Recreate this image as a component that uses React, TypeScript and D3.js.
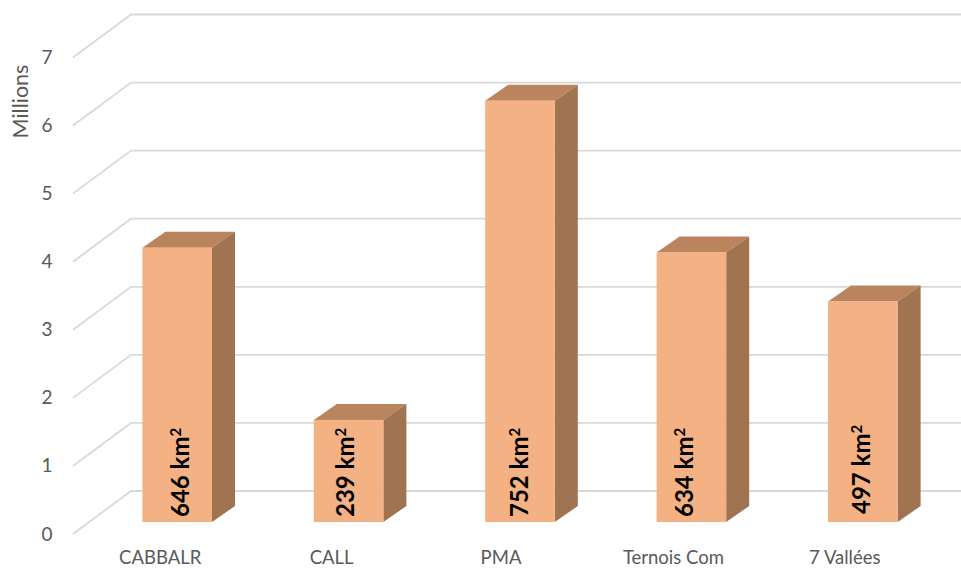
import React from "react";
import * as d3 from "d3";

const categories = ["CABBALR", "CALL", "PMA", "Ternois Com", "7 Vallées"];
const millions = [4.03, 1.5, 6.19, 3.96, 3.24];
const areas = ["646 km", "239 km", "752 km", "634 km", "497 km"];
const ticks = [0, 1, 2, 3, 4, 5, 6, 7];
const categoryLabelShift = [-17, -17, -19, -18, -18];
const areaLabelShift = [3, -4, -1, -7, -1.5];
const areaLabelLift = [0, 0, 0, 0, 3];

const WIDTH = 961;
const HEIGHT = 568;
const FONT = "Lato, 'Open Sans', sans-serif";

// Oblique offset of the back wall relative to the front plane of the floor.
const wallDx = 58;
const wallDy = -43;
// Oblique depth of each column.
const barDx = 23;
const barDy = -16;

const x = d3
  .scaleBand<string>()
  .domain(categories)
  .range([91.5, 948.5])
  .paddingInner(0.594)
  .paddingOuter(0.297);

// Height in the front plane of the axis; columns sit 12px above it.
const y = d3.scaleLinear().domain([0, 7]).range([534, 57.5]);
const barBase = y(0) - 12;
const barHeight = (v: number) => y(0) - y(v);

const poly = (pts: [number, number][]) => d3.line()(pts) + "Z";

export default function App() {
  return (
    <svg
      width={WIDTH}
      height={HEIGHT}
      viewBox={`0 0 ${WIDTH} ${HEIGHT}`}
      style={{ position: "fixed", left: 0, top: 0, background: "#fff" }}
    >
      {ticks.map((t) => (
        <g key={t}>
          <path
            d={
              d3.line()([
                [73, y(t)],
                [73 + wallDx, y(t) + wallDy],
                [WIDTH, y(t) + wallDy],
              ]) as string
            }
            fill="none"
            stroke="#D9D9D9"
            strokeWidth={1.8}
          />
          <text
            x={47}
            y={y(t) + 6.5}
            textAnchor="middle"
            fontFamily={FONT}
            fontSize={19}
            fill="#595959"
          >
            {t}
          </text>
        </g>
      ))}

      <text
        transform="translate(27.5,101.5) rotate(-90)"
        textAnchor="middle"
        fontFamily={FONT}
        fontSize={21.5}
        fill="#595959"
      >
        Millions
      </text>

      {categories.map((c, i) => {
        const x0 = x(c) as number;
        const x1 = x0 + x.bandwidth();
        const top = barBase - barHeight(millions[i]);
        return (
          <g key={c}>
            <path
              d={poly([
                [x0, top],
                [x0 + barDx, top + barDy],
                [x1 + barDx, top + barDy],
                [x1, top],
              ])}
              fill="#BA845F"
            />
            <path
              d={poly([
                [x1, top],
                [x1 + barDx, top + barDy],
                [x1 + barDx, barBase + barDy],
                [x1, barBase],
              ])}
              fill="#A07351"
            />
            <rect x={x0} y={top} width={x1 - x0} height={barBase - top} fill="#F4B183" />
            <text
              transform={`translate(${x0 + x.bandwidth() / 2 + areaLabelShift[i] + 9},${517 - areaLabelLift[i]}) rotate(-90)`}
              fontFamily={FONT}
              fontSize={24}
              fontWeight={700}
              fill="#000"
            >
              {areas[i]}
              <tspan dy={-8} fontSize={15}>
                2
              </tspan>
            </text>
            <text
              x={x0 + x.bandwidth() / 2 + categoryLabelShift[i]}
              y={564}
              textAnchor="middle"
              fontFamily={FONT}
              fontSize={18.5}
              fill="#595959"
            >
              {c}
            </text>
          </g>
        );
      })}
    </svg>
  );
}
